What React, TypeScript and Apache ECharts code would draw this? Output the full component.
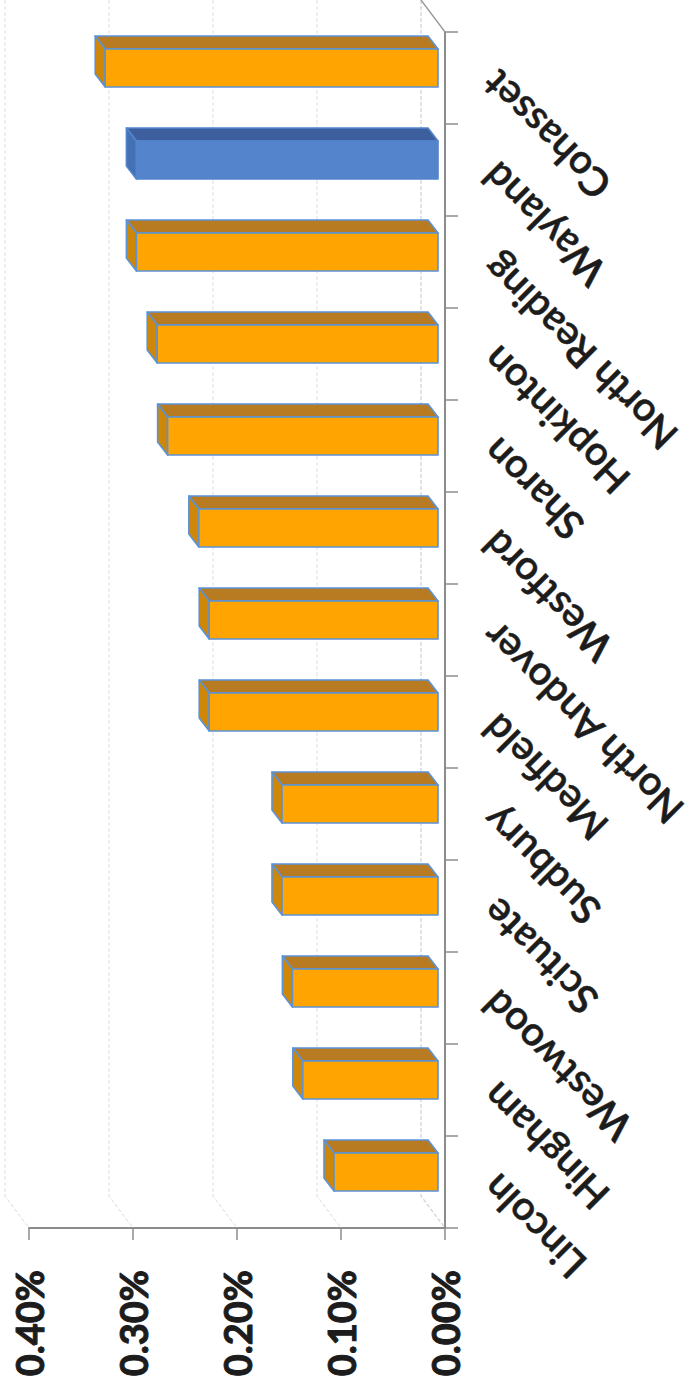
import React, { useEffect, useRef } from "react";
import * as echarts from "echarts";

const categories = ["Cohasset", "Wayland", "North Reading", "Hopkinton", "Sharon", "Westford", "North Andover", "Medfield", "Sudbury", "Scituate", "Westwood", "Hingham", "Lincoln"];
const rates = [0.32, 0.29, 0.29, 0.27, 0.26, 0.23, 0.22, 0.22, 0.15, 0.15, 0.14, 0.13, 0.10];
const highlighted = ["Wayland"];
const gridValues = [0, 0.1, 0.2, 0.3, 0.4];

const orange = { front: "#FFA400", top: "#B97B22", side: "#CF8707", line: "#5B93D6" };
const blue = { front: "#5384CC", top: "#3E5F9E", side: "#4470B4", line: "#5384CC" };

// Offsets of the bar's front and back planes from the axis plane, for the box look.
const FRONT = { x: -7, y: -10 };
const BACK = { x: -17, y: -23 };
const BAR_H = 38;

function renderBar(params: any, api: any) {
  const idx = api.value(0);
  const base = api.coord([0, idx]);
  const end = api.coord([api.value(1), idx]);
  const pal = highlighted.includes(categories[idx]) ? blue : orange;
  const yc = base[1] + FRONT.y;
  const y0 = yc - BAR_H / 2;
  const y1 = yc + BAR_H / 2;
  const xR = base[0] + FRONT.x;
  const xL = end[0] + FRONT.x;
  const dx = BACK.x - FRONT.x;
  const dy = BACK.y - FRONT.y;
  const stroke = { stroke: pal.line, lineWidth: 1.6, lineJoin: "round" };
  return {
    type: "group",
    children: [
      { type: "polygon", shape: { points: [[xL, y0], [xR, y0], [xR + dx, y0 + dy], [xL + dx, y0 + dy]] }, style: { fill: pal.top, ...stroke } },
      { type: "polygon", shape: { points: [[xL, y0], [xL, y1], [xL + dx, y1 + dy], [xL + dx, y0 + dy]] }, style: { fill: pal.side, ...stroke } },
      { type: "rect", shape: { x: xL, y: y0, width: xR - xL, height: BAR_H }, style: { fill: pal.front, ...stroke } },
    ],
  };
}

function renderWall(params: any, api: any) {
  const p = api.coord([api.value(0), categories.length - 1]);
  const sys = params.coordSys;
  const x = p[0];
  const yBottom = sys.y + sys.height;
  return {
    type: "polyline",
    shape: { points: [[x - 24, 0], [x - 24, yBottom - 32], [x, yBottom]] },
    style: { fill: "none", stroke: api.value(0) === 0 ? "#d6d6d6" : "#e8e8e8", lineWidth: 1.4, lineDash: [4, 2] },
  };
}

function renderCorner(params: any, api: any) {
  const sys = params.coordSys;
  const x = sys.x + sys.width;
  return {
    type: "line",
    shape: { x1: x, y1: sys.y, x2: x - 24, y2: 0 },
    style: { stroke: "#9a9a9a", lineWidth: 1.4 },
  };
}

export default function App() {
  const ref = useRef<HTMLDivElement>(null);
  useEffect(() => {
    const chart = echarts.init(ref.current!, undefined, { renderer: "svg" });
    chart.setOption({
      animation: false,
      backgroundColor: "#fff",
      grid: { left: 29, right: 692 - 445, top: 32, bottom: 1391 - 1228, outerBoundsMode: "none" },
      xAxis: {
        type: "value",
        inverse: true,
        min: 0,
        max: 0.4,
        interval: 0.1,
        position: "bottom",
        splitLine: { show: false },
        axisLine: { show: true, lineStyle: { color: "#8c8c8c", width: 2 } },
        axisTick: { show: true, length: 12, lineStyle: { color: "#8c8c8c", width: 1.5 } },
        axisLabel: {
          rotate: 90,
          margin: 42,
          color: "#1c1c1c",
          fontFamily: "Lato",
          fontWeight: "bold",
          fontSize: 38,
          textBorderColor: "#1c1c1c",
          textBorderWidth: 1,
          formatter: (v: number) => v.toFixed(2) + "%",
        },
      },
      yAxis: {
        type: "category",
        data: categories,
        inverse: true,
        position: "right",
        axisLine: { show: true, onZero: false, lineStyle: { color: "#8c8c8c", width: 2 } },
        axisTick: { show: true, length: 13, lineStyle: { color: "#8c8c8c", width: 1.5 } },
        axisLabel: {
          interval: 0,
          rotate: 135,
          margin: 44,
          color: "#1c1c1c",
          fontFamily: "Lato",
          fontWeight: 600,
          fontSize: 40,
          textBorderColor: "#1c1c1c",
          textBorderWidth: 0.5,
        },
      },
      series: [
        { type: "custom", renderItem: renderWall, data: gridValues.map((v) => [v]), clip: false, silent: true, z: 1, encode: { x: 0 } },
        { type: "custom", renderItem: renderCorner, data: [[0]], clip: false, silent: true, z: 1, encode: { x: 0 } },
        { type: "custom", renderItem: renderBar, data: rates.map((v, i) => [i, v]), clip: false, z: 2, encode: { y: 0, x: 1 } },
      ],
    });
    return () => chart.dispose();
  }, []);
  return <div ref={ref} style={{ position: "absolute", left: 0, top: 0, width: 692, height: 1391, overflow: "hidden" }} />;
}
